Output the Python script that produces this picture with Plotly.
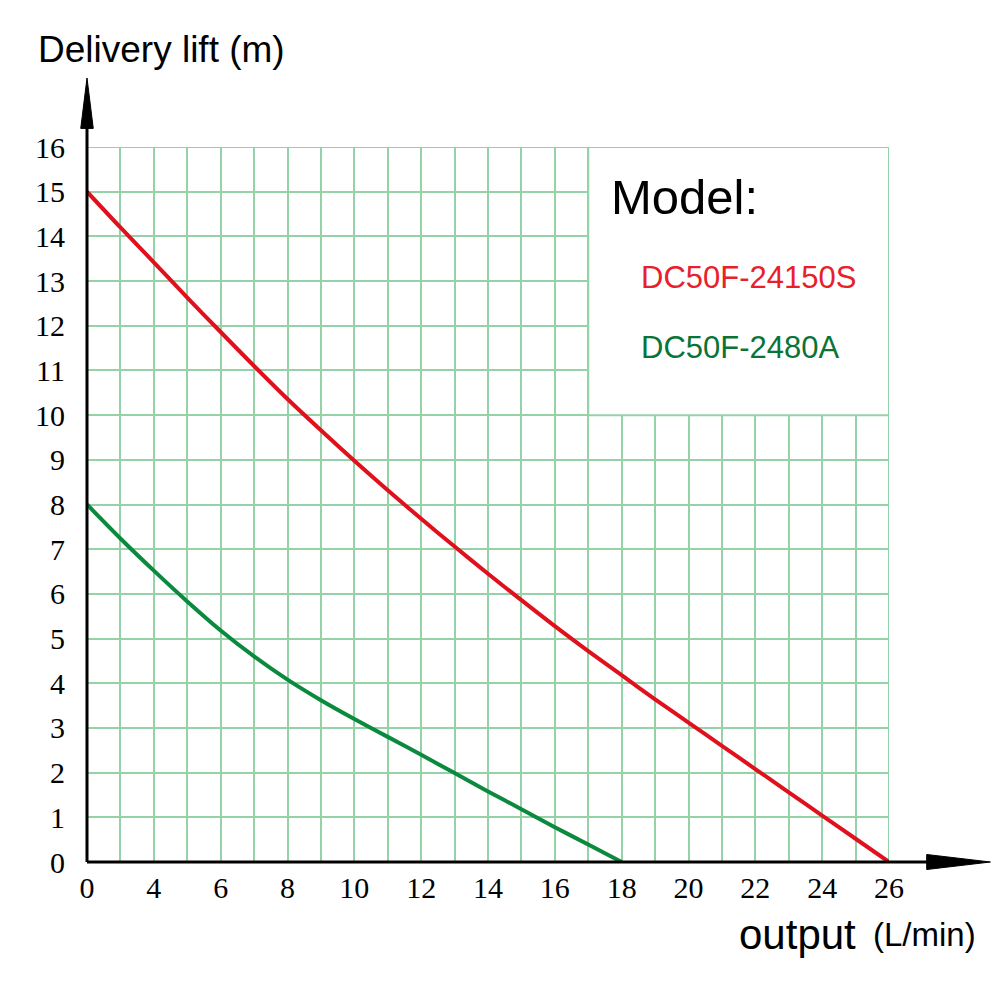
import numpy as np
import plotly.graph_objects as go

# ---- axis tick definitions (as printed on the chart) ----
x_tick_labels = [0, 4, 6, 8, 10, 12, 14, 16, 18, 20, 22, 24, 26]
x_tick_positions = [0, 2, 4, 6, 8, 10, 12, 14, 16, 18, 20, 22, 24]   # grid-column index of each label
y_ticks = list(range(0, 17))

# ---- series (flow L/min -> delivery lift m) ----
red_name = "DC50F-24150S"
red_flow = [0, 2, 4, 5, 6, 7, 8, 9, 10, 11, 12, 13, 14, 15, 16, 17, 18, 19, 20, 21, 22, 23, 24, 25, 26]
red_lift = [15.0, 14.2, 13.42, 12.63, 11.86, 11.1, 10.36, 9.66, 8.98, 8.32, 7.68, 7.06, 6.45,
            5.86, 5.28, 4.72, 4.18, 3.64, 3.12, 2.6, 2.08, 1.56, 1.04, 0.52, 0.0]

green_name = "DC50F-2480A"
green_flow = [0, 2, 4, 5, 6, 7, 8, 9, 10, 11, 12, 13, 14, 15, 16, 17, 18]
green_lift = [8.0, 7.24, 6.52, 5.83, 5.18, 4.6, 4.08, 3.62, 3.2, 2.8, 2.4, 1.99, 1.58,
              1.18, 0.78, 0.39, 0.0]

RED = "#e0101c"
GREEN = "#0b8a3e"
GRID = "#96d2a8"


def to_pos(flow):
    return np.interp(flow, x_tick_labels, x_tick_positions)


fig = go.Figure()
fig.add_trace(go.Scatter(x=to_pos(red_flow), y=red_lift, mode="lines", name=red_name,
                         line=dict(color=RED, width=4, shape="spline", smoothing=0.8)))
fig.add_trace(go.Scatter(x=to_pos(green_flow), y=green_lift, mode="lines", name=green_name,
                         line=dict(color=GREEN, width=4, shape="spline", smoothing=0.8)))

n_cols = x_tick_positions[-1]
all_pos = list(range(0, n_cols + 1))
lab_map = dict(zip(x_tick_positions, [str(v) for v in x_tick_labels]))
x_ticktext = [lab_map.get(p, "") for p in all_pos]

tickfont = dict(family="Liberation Serif", size=30, color="black")

fig.update_xaxes(range=[0, n_cols], tickvals=all_pos, ticktext=x_ticktext,
                 showgrid=True, gridcolor=GRID, gridwidth=2, zeroline=False,
                 showline=False, ticks="", tickfont=tickfont, ticklabelstandoff=5,
                 fixedrange=True)
fig.update_yaxes(range=[0, 16], tickvals=y_ticks, showgrid=True, gridcolor=GRID,
                 gridwidth=2, zeroline=False, showline=False, ticks="",
                 tickfont=tickfont, ticklabelstandoff=21, fixedrange=True)

shapes = []
# legend box (white, covering grid) in the top-right
shapes.append(dict(type="rect", xref="x", yref="y", x0=15, x1=24, y0=10, y1=16,
                   fillcolor="white", line=dict(color=GRID, width=2), layer="above"))
# top and right border lines
shapes.append(dict(type="line", xref="x", yref="y", x0=0, x1=24, y0=16, y1=16,
                   line=dict(color=GRID, width=2), layer="below"))
shapes.append(dict(type="line", xref="x", yref="y", x0=24, x1=24, y0=0, y1=16,
                   line=dict(color=GRID, width=2), layer="below"))
# black axes with arrowheads (paper coordinates)
shapes.append(dict(type="line", xref="paper", yref="paper", x0=0, x1=1.049, y0=0, y1=0,
                   line=dict(color="black", width=3), layer="above"))
shapes.append(dict(type="line", xref="paper", yref="paper", x0=0, x1=0, y0=0, y1=1.027,
                   line=dict(color="black", width=3), layer="above"))
shapes.append(dict(type="path", xref="paper", yref="paper",
                   path="M 1.047 -0.0105 L 1.1265 0 L 1.047 0.0105 Z",
                   fillcolor="black", line=dict(color="black", width=1), layer="above"))
shapes.append(dict(type="path", xref="paper", yref="paper",
                   path="M -0.0078 1.026 L 0 1.0965 L 0.0078 1.026 Z",
                   fillcolor="black", line=dict(color="black", width=1), layer="above"))

annotations = [
    dict(text="Delivery lift (m)", xref="paper", yref="paper", x=-0.0635, y=1.136,
         xanchor="left", yanchor="middle", showarrow=False,
         font=dict(family="Liberation Sans", size=37, color="black")),
    dict(text="output", xref="paper", yref="paper", x=0.811, y=-0.102,
         xanchor="left", yanchor="middle", showarrow=False,
         font=dict(family="Liberation Sans", size=42, color="black")),
    dict(text="(L/min)", xref="paper", yref="paper", x=0.977, y=-0.102,
         xanchor="left", yanchor="middle", showarrow=False,
         font=dict(family="Liberation Sans", size=33, color="black")),
    dict(text="Model:", xref="x", yref="y", x=15.63, y=14.88,
         xanchor="left", yanchor="middle", showarrow=False,
         font=dict(family="Liberation Sans", size=49, color="black")),
    dict(text=red_name, xref="x", yref="y", x=16.53, y=13.07,
         xanchor="left", yanchor="middle", showarrow=False,
         font=dict(family="Liberation Sans", size=31, color="#e8202a")),
    dict(text=green_name, xref="x", yref="y", x=16.53, y=11.52,
         xanchor="left", yanchor="middle", showarrow=False,
         font=dict(family="Liberation Sans", size=31, color="#0a7436")),
]

fig.update_layout(width=1000, height=1000,
                  margin=dict(l=87, r=111, t=147, b=138, pad=0),
                  paper_bgcolor="white", plot_bgcolor="white",
                  showlegend=False, shapes=shapes, annotations=annotations)

fig.write_html("out.html", config={"displayModeBar": False})
